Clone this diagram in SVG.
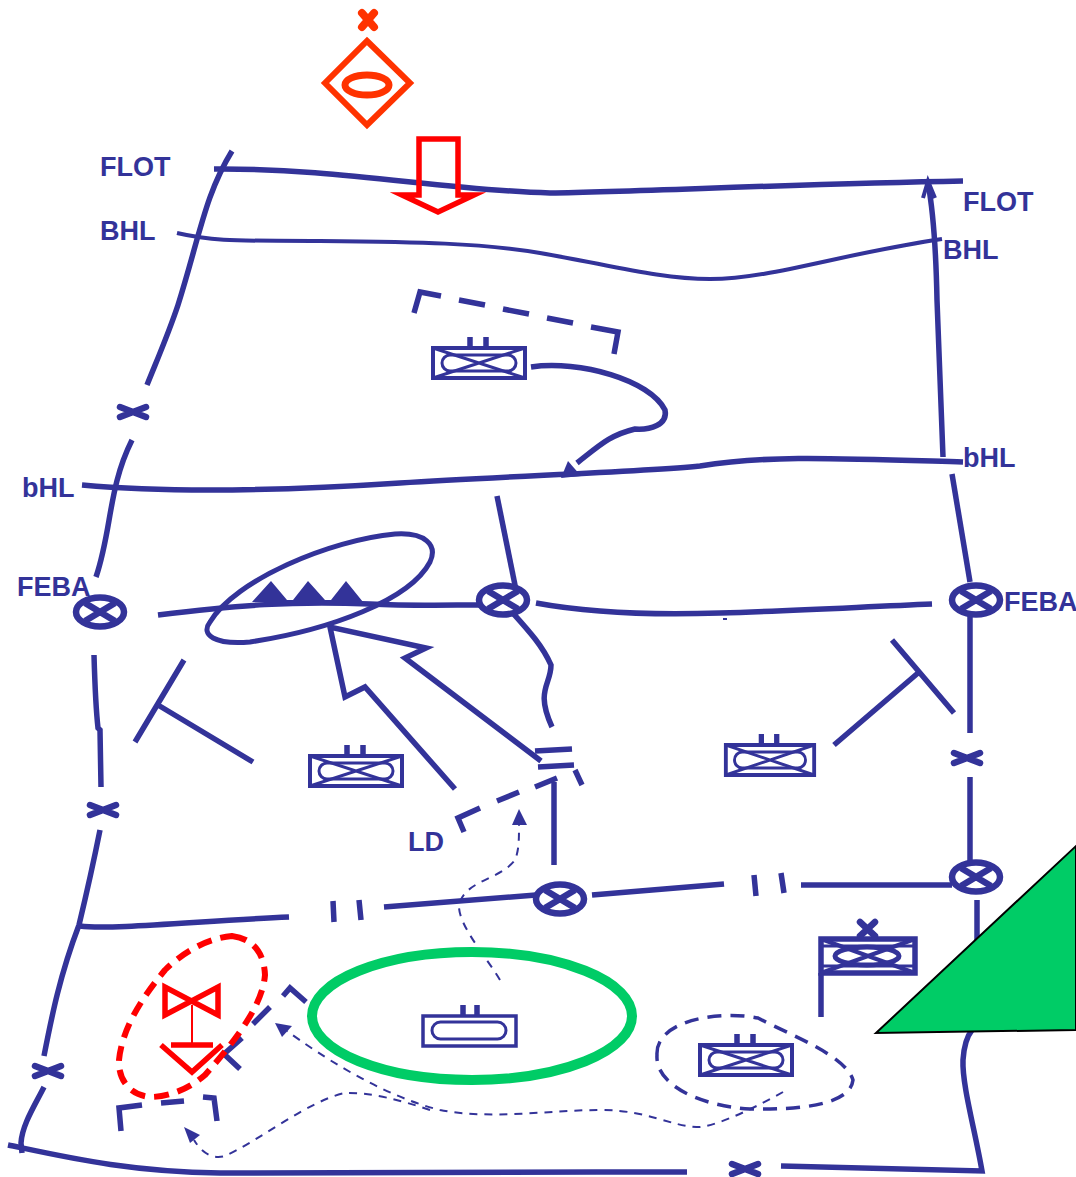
<svg xmlns="http://www.w3.org/2000/svg" width="1076" height="1177" viewBox="0 0 1076 1177">
<defs>
<style>
.b{fill:none;stroke:#333399;stroke-width:5.500}
.t{fill:none;stroke:#333399;stroke-width:4}
.m{fill:none;stroke:#333399;stroke-width:3}
.d{fill:none;stroke:#333399;stroke-width:2;stroke-dasharray:8 7}
.l{font-family:"Liberation Sans",Arial,sans-serif;font-weight:bold;font-size:27px;fill:#333399}
.r{fill:none;stroke:#ff0000}
.o{fill:none;stroke:#ff3300}
.x{fill:none;stroke:#333399;stroke-width:6.500;stroke-linecap:round}
</style>
<g id="cross"><ellipse rx="24" ry="14.500" fill="#fff" stroke="#333399" stroke-width="6.500"/><path d="M-15,-9 L15,9 M-15,9 L15,-9" fill="none" stroke="#333399" stroke-width="6.500"/></g>
<g id="x"><path d="M-13,-5 L13,5 M-13,5 L13,-5" class="x"/></g>
<g id="tank"><rect x="-46" y="-15" width="92" height="30" fill="#fff" stroke="#333399" stroke-width="4"/><path d="M-46,-15 L46,15 M-46,15 L46,-15" fill="none" stroke="#333399" stroke-width="3"/><rect x="-37" y="-8" width="74" height="16" rx="8" fill="none" stroke="#333399" stroke-width="3"/><path d="M-9,-15 V-26 M7,-15 V-26" fill="none" stroke="#333399" stroke-width="5.500"/></g>
</defs>
<g id="connectors">
<path class="b" d="M214,169 C340,168 440,190 550,193 C650,191 800,184 963,181"/>
<path class="t" d="M177,233 C220,243 250,240 320,241 C420,242 480,243 540,253 C610,265 660,279 710,279 C770,279 840,254 942,239"/>
<path class="b" d="M232,151 C205,195 200,235 178,305 C168,335 157,360 147,385"/>
<path class="b" d="M132,440 C108,488 112,530 96,577"/>
<path class="b" d="M82,485 C170,493 280,491 400,483 C510,476 640,472 700,466 C770,455 830,458 963,462"/>
<path class="b" d="M158,615 C240,605 290,601 370,604 C410,606 450,605 480,605"/>
<path class="b" d="M536,603 C590,613 660,615 720,613 C790,611 860,607 932,604"/>
<path class="b" d="M94,655 C95,690 96,710 98,728 L100,730 L101,787"/>
<path class="b" d="M100,830 C92,870 85,900 79,925 C60,975 52,1015 44,1056"/>
<path class="b" d="M44,1087 C35,1105 22,1125 21,1143 L22,1153"/>
<path class="b" d="M80,926 C110,930 200,921 289,917"/>
<path class="b" d="M333,901 L334,922 M359,900 L361,920"/>
<path class="b" d="M384,907 L536,895"/>
<path class="b" d="M592,895 L724,884"/>
<path class="b" d="M754,875 L756,896 M781,873 L784,893"/>
<path class="b" d="M801,885 L952,885"/>
<path class="b" d="M8,1145 C70,1158 130,1172 220,1173 C340,1172 520,1172 687,1172"/>
<path class="b" d="M781,1166 L982,1171 C975,1130 962,1085 963,1060 C964,1045 968,1035 972,1030"/>
<path class="b" d="M977,900 L977,945"/>
<path class="b" d="M970,614 L970,733 M970,777 L970,865"/>
<path class="b" d="M970,582 L952,474"/>
<path class="b" d="M943,457 L937,300 C936,250 933,210 928,183"/>
<path d="M923,198 L928,181 L935,198" fill="none" stroke="#333399" stroke-width="4"/>
<path class="b" d="M497,496 L516,590"/>
<path class="b" d="M497,595 C520,622 540,640 551,665 C551,685 535,690 552,727"/>
<path class="b" d="M554,782 L554,865"/>
<path class="b" d="M535,751 L572,749 M538,767 L574,765"/>
<path class="b" d="M575,770 L582,785"/>
<path class="b" d="M557,778 L535,787 M519,792 L497,801 M480,808 L458,818 L464,832"/>
<path class="b" d="M455,789 L365,687 L345,697 L330,627 L426,648 L405,658 L541,761"/>
<path class="b" d="M135,742 L184,660 M158,705 L253,762"/>
<path class="b" d="M834,745 L918,673 M892,640 L954,713"/>
<path class="b" d="M414,313 L420,292 L441,296 M459,300 L485,305 M503,309 L529,314 M547,318 L573,323 M591,327 L618,332 L614,354"/>
<path class="b" d="M531,367 C580,360 650,380 665,410 C668,425 650,430 635,429 C610,435 600,445 577,463"/>
<polygon points="561,478 568,461 581,476" fill="#333399"/>
<path class="b" d="M210,622 C235,580 330,540 395,534 C425,532 438,545 430,562 C410,600 330,630 250,642 C215,645 200,635 210,622 Z" style="stroke-width:5"/>
<polygon points="252,602 271,581 287,600 293,600 308,581 325,600 331,600 346,581 363,602" fill="#333399"/>
<path class="d" d="M500,980 C485,955 458,925 459,905 C465,880 500,880 515,860 C519,850 519,840 519,825"/>
<polygon points="512,825 519,809 527,825" fill="#333399"/>
<path class="d" d="M783,1092 C760,1105 720,1125 700,1127 C670,1127 650,1110 600,1110 C550,1110 490,1120 440,1110 C380,1095 320,1055 287,1031"/>
<polygon points="275,1023 292,1026 282,1037" fill="#333399"/>
<path class="d" d="M430,1110 C400,1100 370,1092 345,1093 C310,1100 260,1140 225,1156 C210,1160 200,1150 194,1140"/>
<polygon points="184,1127 200,1135 190,1143" fill="#333399"/>
<path class="b" d="M283,996 L290,988 L306,1002"/>
<path class="b" d="M270,1007 L253,1024 M242,1038 L224,1054 L240,1069"/>
<path class="b" d="M121,1131 L119,1108 L142,1105 M161,1103 L184,1101 M203,1097 L214,1098 L217,1121"/>
<path d="M723,619 L727,619" stroke="#333399" stroke-width="2"/>
</g>
<g id="node-tank1"><use href="#tank" x="479" y="363"/></g>
<g id="node-tank2"><use href="#tank" x="356" y="771"/></g>
<g id="node-tank3"><use href="#tank" transform="translate(770 760) scale(.96 1)"/></g>
<g id="node-tank4"><use href="#tank" x="746" y="1060"/>
<path d="M657,1055 C655,1020 720,1010 758,1018 C790,1035 845,1055 853,1080 C850,1105 800,1110 750,1109 C700,1106 655,1085 657,1055 Z" fill="none" stroke="#333399" stroke-width="3.500" stroke-dasharray="14 9"/></g>
<g id="node-unit"><rect x="423" y="1016" width="93" height="30" fill="#fff" stroke="#333399" stroke-width="3.500"/><rect x="432" y="1022" width="74" height="17" rx="8.500" class="m"/><path d="M463,1016 V1005 M477,1016 V1005" class="b"/>
<ellipse cx="472" cy="1016" rx="160" ry="64" fill="none" stroke="#00cc66" stroke-width="10"/></g>
<g id="node-flag">
<rect x="821" y="939" width="94" height="34" fill="none" stroke="#333399" stroke-width="5.500"/>
<path d="M821,939 L915,973 M821,973 L915,939" class="t"/><path d="M821,946 H915 M821,966 H915" class="m"/>
<ellipse cx="867" cy="956" rx="32" ry="9" style="fill:none;stroke:#333399;stroke-width:5"/>
<path d="M821,973 V1017" class="b"/>
<path d="M860,922 L875,936 M875,922 L860,936" class="x"/>
</g>
<g id="node-triangle"><polygon points="876,1033 1076,846 1076,1030" fill="#00cc66" stroke="#000" stroke-width="2"/></g>
<g id="crossings">
<use href="#cross" x="100" y="612"/>
<use href="#cross" x="503" y="600"/>
<use href="#cross" x="976" y="600"/>
<use href="#cross" x="976" y="877"/>
<use href="#cross" x="560" y="899"/>
<use href="#x" x="133" y="412"/>
<use href="#x" x="103" y="810"/>
<use href="#x" x="48" y="1071"/>
<use href="#x" x="967" y="758"/>
<use href="#x" x="745" y="1169"/>
</g>
<g id="node-diamond"><polygon points="367,41 410,83 367,125 325,83" class="o" stroke-width="6"/><ellipse cx="367" cy="85" rx="22" ry="10" class="o" stroke-width="7"/><path d="M362,13 L374,27 M374,13 L362,27" class="o" stroke-width="8" stroke-linecap="round"/></g>
<g id="node-arrow"><polygon points="419,139 458,139 458,195 474,195 438,212 402,195 419,195" class="r" stroke-width="5.500" stroke-miterlimit="10"/></g>
<g id="node-red">
<path d="M232,936 C250,938 264,950 265,975 C263,1000 245,1030 205,1075 C190,1088 170,1097 150,1097 C130,1095 118,1080 119,1060 C122,1030 140,1000 165,970 C185,950 210,938 232,936 Z" class="r" stroke-width="6" stroke-dasharray="15 9"/>
<path d="M165,987 L165,1015 L218,987 L218,1015 Z" class="r" stroke-width="5.500"/>
<path d="M192,1005 V1045" class="r" stroke-width="2"/>
<path d="M171,1045 H213" class="r" stroke-width="5.500"/>
<path d="M161,1045 L192,1072 L222,1045" class="r" stroke-width="5.500"/>
</g>
<g id="labels">
<text class="l" x="100" y="176">FLOT</text>
<text class="l" x="963" y="211">FLOT</text>
<text class="l" x="100" y="240">BHL</text>
<text class="l" x="943" y="259">BHL</text>
<text class="l" x="22" y="497">bHL</text>
<text class="l" x="963" y="467">bHL</text>
<text class="l" x="17" y="596">FEBA</text>
<text class="l" x="1004" y="611">FEBA</text>
<text class="l" x="408" y="851">LD</text>
</g>
</svg>
